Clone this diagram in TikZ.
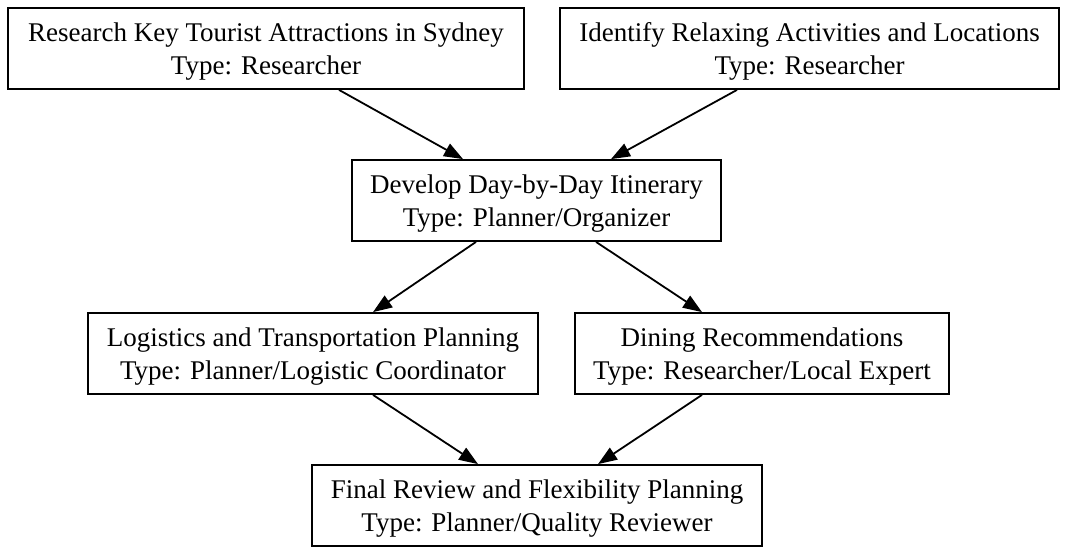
\documentclass[tikz,border=0pt]{standalone}
\usepackage{fontspec}
\setmainfont{Liberation Serif}
\usepackage{tikz}
\usetikzlibrary{arrows.meta,positioning}

\begin{document}
\begin{tikzpicture}[
            x=0.5pt, y=-0.5pt,
            every node/.style={font=\fontsize{13.5}{16.5}\selectfont},
            task/.style={draw, line width=0.9pt, minimum height=40.5pt, inner sep=0pt, align=center, text height=29pt},
            flow/.style={-{Triangle[length=9.5pt,width=7pt]}, line width=0.9pt},
        ]
            \useasboundingbox (0,0) rectangle (1068,555);

            \node[task, minimum width=258pt] (attractions) at (266,48.5) {Research Key Tourist Attractions in Sydney\\Type: Researcher};
            \node[task, minimum width=249.5pt] (relaxing) at (809.5,48.5) {Identify Relaxing Activities and Locations\\Type: Researcher};
            \node[task, minimum width=184.5pt] (itinerary) at (536.5,200.5) {Develop Day-by-Day Itinerary\\Type: Planner/Organizer};
            \node[task, minimum width=225pt] (logistics) at (313,353.5) {Logistics and Transportation Planning\\Type: Planner/Logistic Coordinator};
            \node[task, minimum width=187pt] (dining) at (762,353.5) {Dining Recommendations\\Type: Researcher/Local Expert};
            \node[task, minimum width=225pt] (review) at (537,505.5) {Final Review and Flexibility Planning\\Type: Planner/Quality Reviewer};

            \draw[flow] ([xshift=36.5pt]attractions.south) -- ([xshift=-36.75pt]itinerary.north);
            \draw[flow] ([xshift=-36.25pt]relaxing.south) -- ([xshift=37.25pt]itinerary.north);
            \draw[flow] ([xshift=-30.25pt]itinerary.south) -- ([xshift=30pt]logistics.north);
            \draw[flow] ([xshift=29.75pt]itinerary.south) -- ([xshift=-30pt]dining.north);
            \draw[flow] ([xshift=30pt]logistics.south) -- ([xshift=-29.5pt]review.north);
            \draw[flow] ([xshift=-30pt]dining.south) -- ([xshift=30.5pt]review.north);
        \end{tikzpicture}
\end{document}
